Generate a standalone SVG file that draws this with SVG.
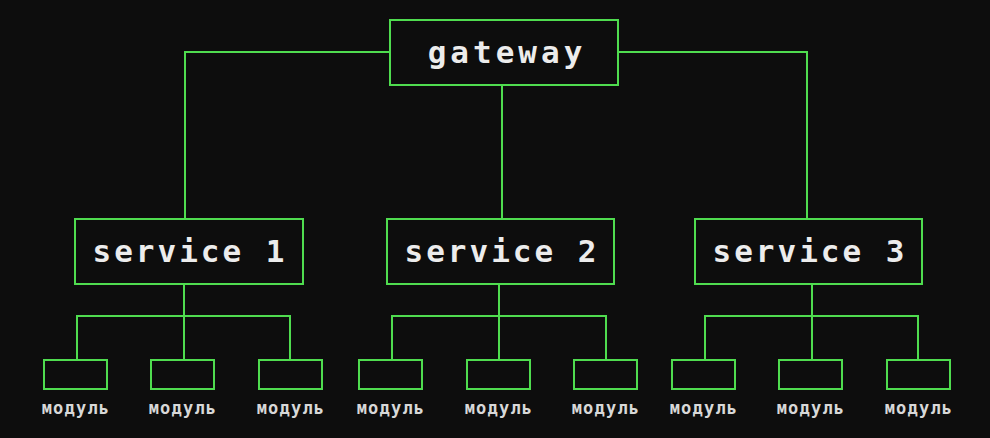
<svg xmlns="http://www.w3.org/2000/svg" width="990" height="438" viewBox="0 0 990 438">
<style>
.bx{fill:#0d0d0d;stroke:#4fdc4f;stroke-width:2}
.ln{fill:none;stroke:#4fdc4f;stroke-width:2}
.big{font-family:"DejaVu Sans Mono",monospace;font-size:31px;font-weight:bold;fill:#ececec;text-anchor:middle;letter-spacing:3px}
.sm{font-family:"DejaVu Sans Mono",monospace;font-size:17px;font-weight:bold;fill:#d8d8d8;text-anchor:middle;letter-spacing:1.2px}
</style>
<rect width="990" height="438" fill="#0d0d0d"/>
<g id="connectors" class="ln">
<path d="M390 52H185V219"/>
<path d="M502 85V219"/>
<path d="M618 52H807V219"/>
<path d="M184 284V360M77 360V316H290V360"/>
<path d="M499 284V360M392 360V316H606V360"/>
<path d="M812 284V360M705 360V316H918V360"/>
</g>
<g id="gateway"><rect class="bx" x="390" y="20" width="228" height="65"/><text class="big" x="507" y="63" style="letter-spacing:4px">gateway</text></g>
<g id="service1"><rect class="bx" x="75" y="219" width="228" height="65"/><text class="big" x="190" y="262">service 1</text></g>
<g id="service2"><rect class="bx" x="387" y="219" width="227" height="65"/><text class="big" x="502" y="262">service 2</text></g>
<g id="service3"><rect class="bx" x="695" y="219" width="227" height="65"/><text class="big" x="810" y="262">service 3</text></g>
<g id="m1"><rect class="bx" x="44" y="360" width="63" height="29"/><text class="sm" x="76" y="414">модуль</text></g>
<g id="m2"><rect class="bx" x="151" y="360" width="63" height="29"/><text class="sm" x="183" y="414">модуль</text></g>
<g id="m3"><rect class="bx" x="259" y="360" width="63" height="29"/><text class="sm" x="291" y="414">модуль</text></g>
<g id="m4"><rect class="bx" x="359" y="360" width="63" height="29"/><text class="sm" x="391" y="414">модуль</text></g>
<g id="m5"><rect class="bx" x="467" y="360" width="63" height="29"/><text class="sm" x="499" y="414">модуль</text></g>
<g id="m6"><rect class="bx" x="574" y="360" width="63" height="29"/><text class="sm" x="606" y="414">модуль</text></g>
<g id="m7"><rect class="bx" x="672" y="360" width="63" height="29"/><text class="sm" x="704" y="414">модуль</text></g>
<g id="m8"><rect class="bx" x="779" y="360" width="63" height="29"/><text class="sm" x="811" y="414">модуль</text></g>
<g id="m9"><rect class="bx" x="887" y="360" width="63" height="29"/><text class="sm" x="919" y="414">модуль</text></g>
</svg>
